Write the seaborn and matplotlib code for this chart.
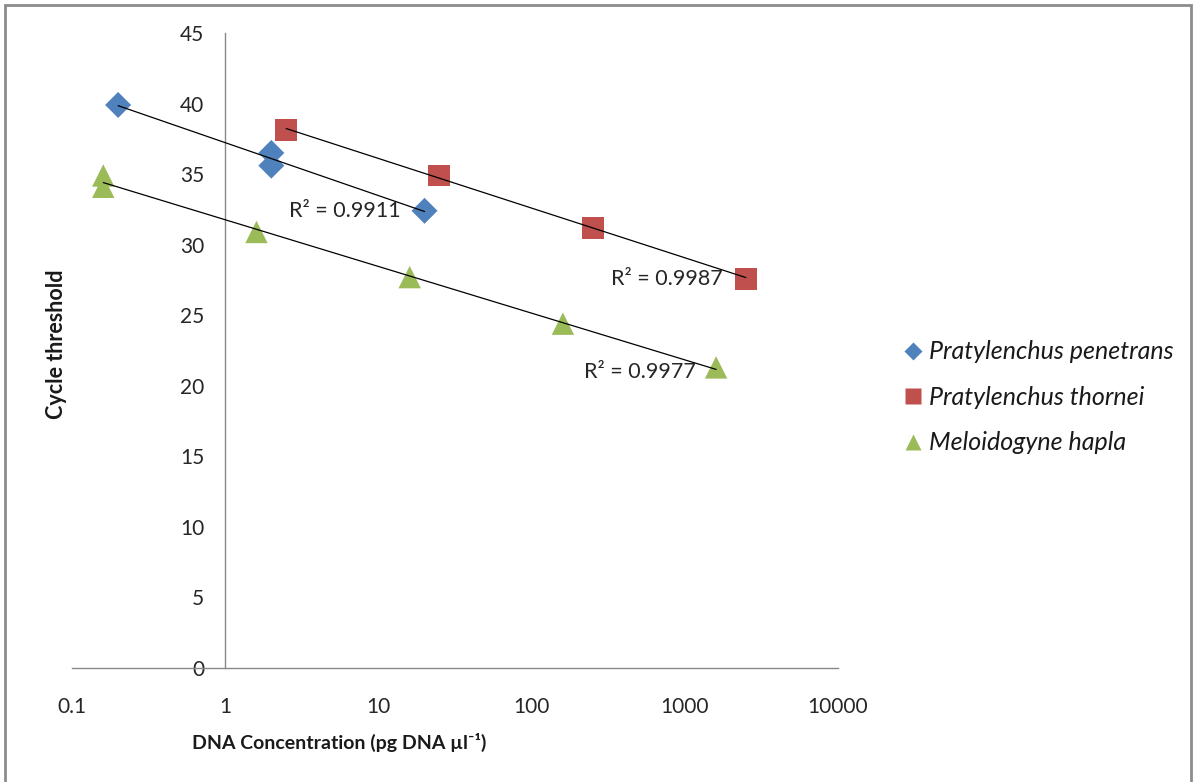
import numpy as np
import pandas as pd
import matplotlib
matplotlib.use("Agg")
import matplotlib.pyplot as plt
from matplotlib.lines import Line2D
from matplotlib.patches import Rectangle
import seaborn as sns

# Standard curves: DNA concentration (pg DNA / ul) vs qPCR cycle threshold
species = ["Pratylenchus penetrans", "Pratylenchus thornei", "Meloidogyne hapla"]

pen_conc = [0.2, 2.0, 2.0, 20.0]
pen_ct = [39.9, 36.5, 35.6, 32.4]

tho_conc = [2.5, 25.0, 250.0, 2500.0]
tho_ct = [38.1, 34.9, 31.2, 27.6]

hap_conc = [0.16, 0.16, 1.6, 16.0, 160.0, 1600.0]
hap_ct = [34.9, 34.1, 30.9, 27.7, 24.4, 21.3]

r2_labels = ["R\u00b2 = 0.9911", "R\u00b2 = 0.9987", "R\u00b2 = 0.9977"]

x_ticks = [0.1, 1, 10, 100, 1000, 10000]
x_tick_labels = ["0.1", "1", "10", "100", "1000", "10000"]
y_ticks = list(range(0, 50, 5))

colors = ["#4F81BD", "#C0504D", "#9BBB59"]
markers = ["D", "s", "^"]
sizes = [175, 250, 260]

df = pd.DataFrame({
    "conc": pen_conc + tho_conc + hap_conc,
    "ct": pen_ct + tho_ct + hap_ct,
    "species": [species[0]] * len(pen_conc) + [species[1]] * len(tho_conc)
    + [species[2]] * len(hap_conc),
})

sns.set_style("white")
plt.rcParams["font.family"] = ["Lato", "DejaVu Sans"]

fig = plt.figure(figsize=(11.96, 7.82), dpi=100)
ax = fig.add_axes([0.0602, 0.1458, 0.6405, 0.812])

# log-linear trendlines spanning each series' range
for sp in species:
    sub = df[df["species"] == sp]
    lx = np.log10(sub["conc"].to_numpy())
    slope, icpt = np.polyfit(lx, sub["ct"].to_numpy(), 1)
    xs = np.array([lx.min(), lx.max()])
    ax.plot(10 ** xs, slope * xs + icpt, color="black", lw=0.9, zorder=3)

for sp, c, m, s in zip(species, colors, markers, sizes):
    sub = df[df["species"] == sp]
    sns.scatterplot(data=sub, x="conc", y="ct", color=c, marker=m, s=s,
                    edgecolor="none", ax=ax, zorder=2, legend=False)

ax.set_xscale("log")
ax.set_xlim(0.1, 10000)
ax.set_ylim(0, 45)
ax.set_xticks(x_ticks)
ax.set_xticklabels(x_tick_labels)
ax.set_yticks(y_ticks)
ax.minorticks_off()

ax.spines["top"].set_visible(False)
ax.spines["right"].set_visible(False)
ax.spines["left"].set_position(("data", 1))
for sp_name in ("left", "bottom"):
    ax.spines[sp_name].set_color("#898989")
    ax.spines[sp_name].set_linewidth(1.0)

ax.tick_params(axis="y", direction="out", length=7, color="#898989",
               labelsize=15, labelcolor="#262626", pad=8)
ax.tick_params(axis="x", direction="out", length=7, color="#898989",
               labelsize=15, labelcolor="#262626", pad=14)

ax.set_xlabel("")
ax.set_ylabel("")
fig.text(0.284, 0.051, "DNA Concentration (pg DNA \u00b5l\u207b\u00b9)",
         ha="center", va="center", fontsize=14, fontweight="bold",
         color="#1a1a1a")
fig.text(0.047, 0.56, "Cycle threshold", ha="center", va="center",
         rotation=90, fontsize=15.5, fontweight="bold", color="#1a1a1a")

# R-squared annotations
r2_pos = [(14, 32.4), (1780, 27.6), (1180, 21.0)]
for lab, (px, py) in zip(r2_labels, r2_pos):
    ax.text(px, py, lab, ha="right", va="center", fontsize=15.5, color="#262626")

handles = [Line2D([0], [0], marker=m, color="none", markerfacecolor=c,
                  markeredgecolor="none", markersize=ms)
           for m, c, ms in zip(markers, colors, [9, 12, 12])]
leg = fig.legend(handles, species, loc="center left",
                 bbox_to_anchor=(0.731, 0.492), frameon=False,
                 prop={"style": "italic", "size": 18},
                 handletextpad=0.0, labelspacing=0.9, handlelength=1.3)
for t in leg.get_texts():
    t.set_color("#1a1a1a")

fig.patches.append(Rectangle((0.004, -0.02), 0.992, 1.013, transform=fig.transFigure,
                             fill=False, edgecolor="#8c8c8c", lw=2))

fig.savefig("out.png", dpi=100)
